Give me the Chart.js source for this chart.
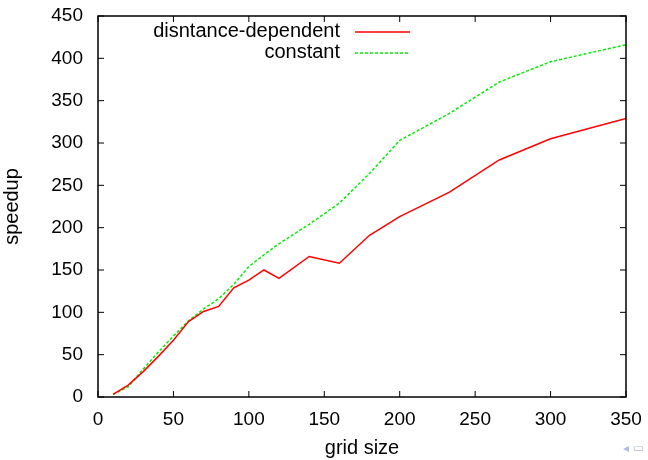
<!DOCTYPE html>
<html lang="en">
<head>
  <meta charset="UTF-8" />
  <title>Speedup vs grid size</title>
  <script src="https://cdn.jsdelivr.net/npm/chart.js"></script>
  <style>
    body {
      margin: 0;
      padding: 0;
      background: #fff;
    }

    .chart-container {
      width: 648px;
      height: 460px;
      position: relative;
    }

    /* beamer navigation symbols in the corner */
    .nav {
      position: absolute;
      left: 623px;
      top: 441px;
      white-space: nowrap;
      font-family: 'DejaVu Sans', sans-serif;
      font-size: 12px;
      color: #b4bbe0;
    }
  </style>
</head>
<body>
  <div class="chart-container">
    <canvas id="speedupChart" width="648" height="460"></canvas>
    <span class="nav">&#9666; &#9645;</span>
  </div>

  <script>
    // Values
    const gridSize = [10, 20, 30, 40, 50, 60, 70, 80, 90, 100, 110, 120, 140, 160, 180, 200, 233, 266, 300, 350];
    const distanceDependent = [3, 14, 30, 48, 67, 89, 101, 107, 129, 138, 150, 140, 166, 158, 191, 213, 242, 280, 305, 329];
    const constant = [3, 12, 33, 53, 72, 90, 104, 116, 133, 154, 168, 181, 204, 229, 264, 303, 335, 372, 396, 416];
    const seriesLabels = ['disntance-dependent', 'constant'];

    const FAMILY = "'Liberation Sans', Arial, sans-serif";
    const TICK_FONT = { family: FAMILY, size: 19 };
    const TEXT_FONT = { family: FAMILY, size: 20 };

    const toPoints = (ys) => gridSize.map((x, i) => ({ x, y: ys[i] }));

    // gnuplot-like frame with inward ticks on all four sides, plus key
    const framePlugin = {
      id: 'frame',
      afterDraw(chart) {
        const { ctx, chartArea: a, scales } = chart;
        const len = 6;
        ctx.save();
        ctx.strokeStyle = '#000';
        ctx.lineWidth = 1.5;
        ctx.strokeRect(a.left, a.top, a.right - a.left, a.bottom - a.top);

        ctx.lineWidth = 1;
        ctx.beginPath();
        scales.x.ticks.forEach(t => {
          const px = scales.x.getPixelForValue(t.value);
          ctx.moveTo(px, a.bottom); ctx.lineTo(px, a.bottom - len);
          ctx.moveTo(px, a.top); ctx.lineTo(px, a.top + len);
        });
        scales.y.ticks.forEach(t => {
          const py = scales.y.getPixelForValue(t.value);
          ctx.moveTo(a.left, py); ctx.lineTo(a.left + len, py);
          ctx.moveTo(a.right, py); ctx.lineTo(a.right - len, py);
        });
        ctx.stroke();

        // key, top left inside the frame
        ctx.font = `${TEXT_FONT.size}px ${FAMILY}`;
        ctx.fillStyle = '#000';
        ctx.textAlign = 'right';
        ctx.textBaseline = 'middle';
        chart.data.datasets.forEach((ds, i) => {
          const y = 31 + i * 21;
          ctx.fillText(ds.label, 340, y);
          ctx.strokeStyle = ds.borderColor;
          ctx.lineWidth = ds.borderWidth;
          ctx.setLineDash(ds.borderDash || []);
          ctx.beginPath();
          ctx.moveTo(355, y + 1);
          ctx.lineTo(410, y + 1);
          ctx.stroke();
        });
        ctx.restore();
      }
    };

    const ctx = document.getElementById('speedupChart').getContext('2d');
    const speedupChart = new Chart(ctx, {
      type: 'line',
      data: {
        datasets: [
          {
            label: seriesLabels[0],
            data: toPoints(distanceDependent),
            borderColor: '#ff0000',
            borderWidth: 1.5,
            pointRadius: 0,
            tension: 0
          },
          {
            label: seriesLabels[1],
            data: toPoints(constant),
            borderColor: '#00ee00',
            borderWidth: 1.5,
            borderDash: [3, 2],
            pointRadius: 0,
            tension: 0
          }
        ]
      },
      options: {
        responsive: false,
        animation: false,
        layout: {
          padding: { left: 0, top: 16, right: 22, bottom: 0 }
        },
        plugins: {
          legend: { display: false },
          tooltip: { enabled: false }
        },
        scales: {
          x: {
            type: 'linear',
            min: 0,
            max: 350,
            afterFit: (scale) => {
              scale.height = 63;
              scale.paddingLeft = 0;
              scale.paddingRight = 0;
            },
            grid: { display: false, drawTicks: false },
            border: { display: false },
            ticks: { stepSize: 50, padding: 11, color: '#000', font: TICK_FONT },
            title: {
              display: true,
              text: 'grid size',
              color: '#000',
              font: TEXT_FONT,
              padding: { top: 0, bottom: 0 }
            }
          },
          y: {
            type: 'linear',
            min: 0,
            max: 450,
            afterFit: (scale) => {
              scale.width = 98;
              scale.paddingTop = 0;
              scale.paddingBottom = 0;
            },
            grid: { display: false, drawTicks: false },
            border: { display: false },
            ticks: { stepSize: 50, padding: 15, color: '#000', font: TICK_FONT },
            title: {
              display: true,
              text: 'speedup',
              color: '#000',
              font: TEXT_FONT,
              padding: { top: 0, bottom: 0 }
            }
          }
        }
      },
      plugins: [framePlugin]
    });
  </script>
</body>
</html>
